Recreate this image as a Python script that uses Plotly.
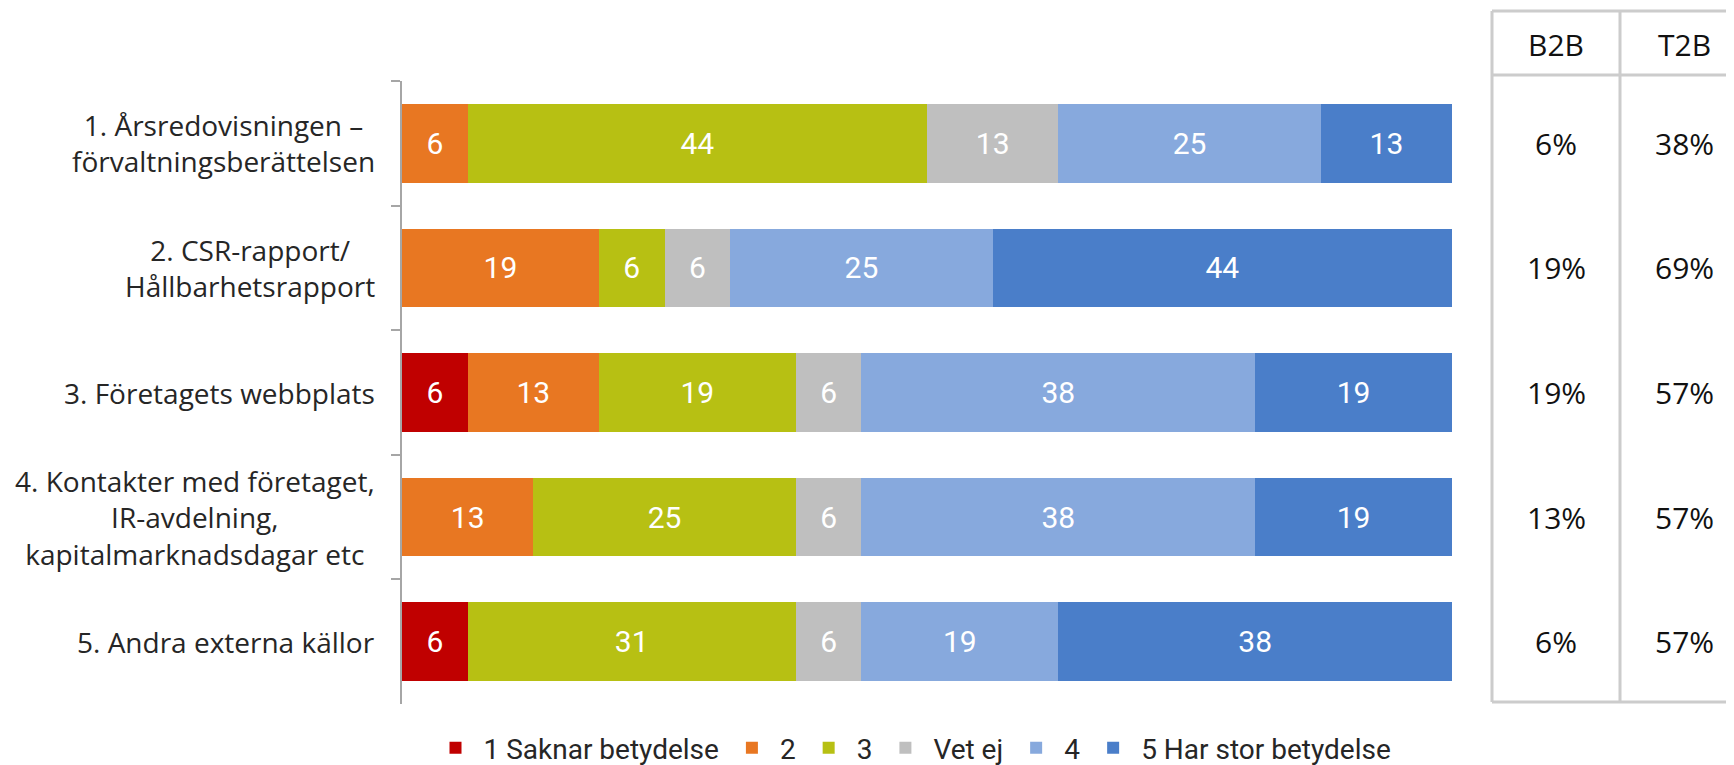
import plotly.graph_objects as go

# survey rows (top to bottom)
categories = [
    "1. Årsredovisningen –<br>förvaltningsberättelsen",
    "2. CSR-rapport/<br>Hållbarhetsrapport",
    "3. Företagets webbplats",
    "4. Kontakter med företaget,<br>IR-avdelning,<br>kapitalmarknadsdagar etc",
    "5. Andra externa källor",
]

series_names = ["1 Saknar betydelse", "2", "3", "Vet ej", "4", "5 Har stor betydelse"]
series_colors = ["#C00000", "#E87722", "#B7C013", "#BFBFBF", "#87A9DD", "#4A7EC9"]

# share of answers in percent (None = no segment)
saknar = [None, None, 6.25, None, 6.25]
two = [6.25, 18.75, 12.5, 12.5, None]
three = [43.75, 6.25, 18.75, 25, 31.25]
vet_ej = [12.5, 6.25, 6.25, 6.25, 6.25]
four = [25, 25, 37.5, 37.5, 18.75]
five = [12.5, 43.75, 18.75, 18.75, 37.5]
series_values = [saknar, two, three, vet_ej, four, five]

table_headers = ["B2B", "T2B"]
b2b = ["6%", "19%", "19%", "13%", "6%"]
t2b = ["38%", "69%", "57%", "57%", "57%"]

# page is 1734x765 but the body has an 8px margin
OFF = 8
W, H = 1734 - OFF, 765 - OFF
ml, mr, mt, mb = 402 - OFF, 282, 81 - OFF, 61
pw, ph = W - ml - mr, H - mt - mb


def px_x(x):  # page pixel -> paper x
    return (x - OFF - ml) / pw


def px_y(y):  # page pixel -> paper y
    return (H - mb - (y - OFF)) / ph


fig = go.Figure()
for name, color, vals in zip(series_names, series_colors, series_values):
    fig.add_trace(go.Bar(
        y=categories, x=vals, name=name, orientation="h",
        marker=dict(color=color, line=dict(width=0)),
        texttemplate="%{x:.0f}", textposition="inside", insidetextanchor="middle",
        textangle=0, constraintext="none",
        textfont=dict(family="Roboto", size=30, color="white"),
        hoverinfo="skip",
    ))

annotations = []
# category labels (lines centred, block right aligned to the axis)
for cat in categories:
    annotations.append(dict(
        text=cat, xref="paper", yref="y", x=px_x(377), y=cat,
        xanchor="right", yanchor="middle", align="center", showarrow=False,
        font=dict(family="Open Sans", size=28, color="#262626"),
    ))

# side table
col_x = [px_x(1556), px_x(1684)]
for hdr, cx in zip(table_headers, col_x):
    annotations.append(dict(
        text=hdr, xref="paper", yref="paper", x=cx, y=px_y(44),
        xanchor="center", yanchor="middle", showarrow=False,
        font=dict(family="Open Sans", size=30, color="#111111"),
    ))
for col, cx in zip([b2b, t2b], col_x):
    for cat, val in zip(categories, col):
        annotations.append(dict(
            text=val, xref="paper", yref="y", x=cx, y=cat,
            xanchor="center", yanchor="middle", showarrow=False,
            font=dict(family="Open Sans", size=30, color="#111111"),
        ))

line = dict(color="#CCCCCC", width=3)
shapes = [
    dict(type="line", xref="paper", yref="paper", x0=px_x(1492), x1=px_x(1492), y0=px_y(11), y1=px_y(702), line=line),
    dict(type="line", xref="paper", yref="paper", x0=px_x(1620), x1=px_x(1620), y0=px_y(11), y1=px_y(702), line=line),
    dict(type="line", xref="paper", yref="paper", x0=px_x(1492), x1=px_x(1760), y0=px_y(11), y1=px_y(11), line=line),
    dict(type="line", xref="paper", yref="paper", x0=px_x(1492), x1=px_x(1760), y0=px_y(75), y1=px_y(75), line=line),
    dict(type="line", xref="paper", yref="paper", x0=px_x(1492), x1=px_x(1760), y0=px_y(702), y1=px_y(702), line=line),
]

fig.update_layout(
    width=W, height=H,
    barmode="stack", bargap=0.37,
    paper_bgcolor="white", plot_bgcolor="white",
    margin=dict(l=ml, r=mr, t=mt, b=mb, autoexpand=False),
    xaxis=dict(range=[0, 100], visible=False, fixedrange=True),
    yaxis=dict(type="category", autorange="reversed", showticklabels=False,
               showline=True, linecolor="#A6A6A6", linewidth=2,
               ticks="outside", tickson="boundaries", ticklen=9,
               tickcolor="#A6A6A6", tickwidth=2, showgrid=False, zeroline=False),
    legend=dict(orientation="h", x=px_x(912), xanchor="center", y=px_y(748), yanchor="middle",
                font=dict(family="Roboto", size=28, color="#262626"),
                itemwidth=46, bgcolor="rgba(0,0,0,0)",
                traceorder="normal", itemclick=False, itemdoubleclick=False),
    annotations=annotations, shapes=shapes,
    showlegend=True,
)

fig.write_html("out.html")
